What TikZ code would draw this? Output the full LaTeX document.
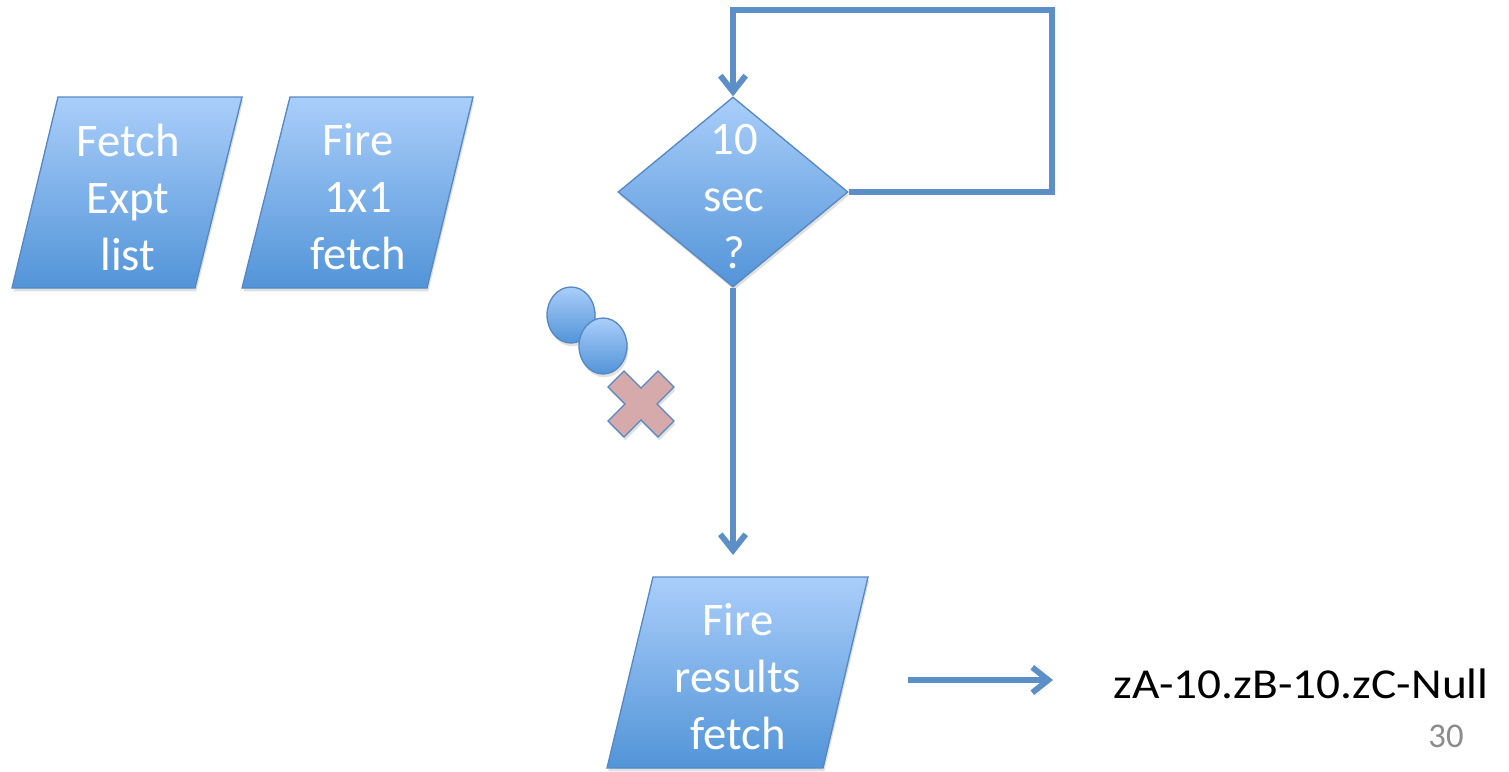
\documentclass[tikz,border=0pt]{standalone}
\usepackage{fontspec}
\setmainfont{Carlito}
\usetikzlibrary{shapes.geometric,arrows.meta}
\definecolor{boxtop}{RGB}{170,206,250}
\definecolor{boxbot}{RGB}{82,148,216}
\definecolor{edge}{RGB}{86,136,196}
\definecolor{wire}{RGB}{92,143,200}
\definecolor{crossfill}{RGB}{214,170,170}
\definecolor{pagenum}{RGB}{140,140,140}
\begin{document}
\begin{tikzpicture}[x=0.75pt,y=-0.75pt,
  shade box/.style={draw=edge, line width=1pt, top color=boxtop, bottom color=boxbot,
    preaction={fill=black, opacity=0.12, transform canvas={xshift=1pt,yshift=-2.5pt}}},
  lbl/.style={text=white, align=center, inner sep=0pt,
    font=\fontsize{35}{42.75}\selectfont},
  wirearrow/.style={draw=wire, line width=4.4pt,
    -{Straight Barb[length=12pt,width=19pt]}},
  wireline/.style={draw=wire, line width=4.4pt}]
\useasboundingbox (0,0) rectangle (1509,771);

% input/output boxes (parallelograms)
\path[shade box] (58,97) -- (242,97) -- (195,288) -- (12,288) -- cycle;
\node[lbl] (fetch) at (128,197) {Fetch\\Expt\\list};

\path[shade box] (290,97) -- (473,97) -- (427,288) -- (242,288) -- cycle;
\node[lbl] (fire) at (358,197) {Fire\\1x1\\fetch};

\path[shade box] (653,577) -- (868,577) -- (823,768) -- (607,768) -- cycle;
\node[lbl] (results) at (738,677) {Fire\\results\\fetch};

% decision
\node[diamond, shade box, inner sep=0pt, minimum width=172.5pt, minimum height=142.5pt]
  (dec) at (733,192) {};
\node[lbl] (dectext) at (734,197) {10\\sec\\?};

% waiting loop back into the decision
\coordinate (loopr) at (1052,192);
\coordinate (loopt) at (1052,10);
\coordinate (loopl) at (733,10);
\draw[wireline] (dec.east) -- (loopr);
\draw[wireline, line cap=rect] (loopr) -- (loopt) -- (loopl);
\draw[wirearrow] (loopl) -- (dec.north);

% down to the results fetch
\coordinate (vend) at (733,555);
\draw[wirearrow] (dec.south) -- (vend);

% result arrow
\coordinate (hs) at (908,680);
\coordinate (he) at (1053,680);
\draw[wirearrow] (hs) -- (he);
\node[font=\fontsize{32}{38}\selectfont, inner sep=0pt] (out) at (1301,684)
  {\scalebox{1.11}[1]{zA-10.zB-10.zC-Null}};

% two markers and a cross
\path[shade box] (571,315) ellipse [x radius=18pt, y radius=21pt];
\path[shade box] (603,346) ellipse [x radius=18pt, y radius=21pt];
\path[draw=edge, line width=1pt, fill=crossfill,
  preaction={fill=black, opacity=0.12, transform canvas={xshift=1pt,yshift=-2.5pt}}]
  (641,388) -- (658,371) -- (674,387) -- (657,404) -- (674,421) -- (658,437)
  -- (641,420) -- (624,437) -- (608,421) -- (625,404) -- (608,387) -- (624,371) -- cycle;

% page number
\node[text=pagenum, font=\fontsize{26}{30}\selectfont, inner sep=0pt] (page) at (1446,736) {30};
\end{tikzpicture}
\end{document}
